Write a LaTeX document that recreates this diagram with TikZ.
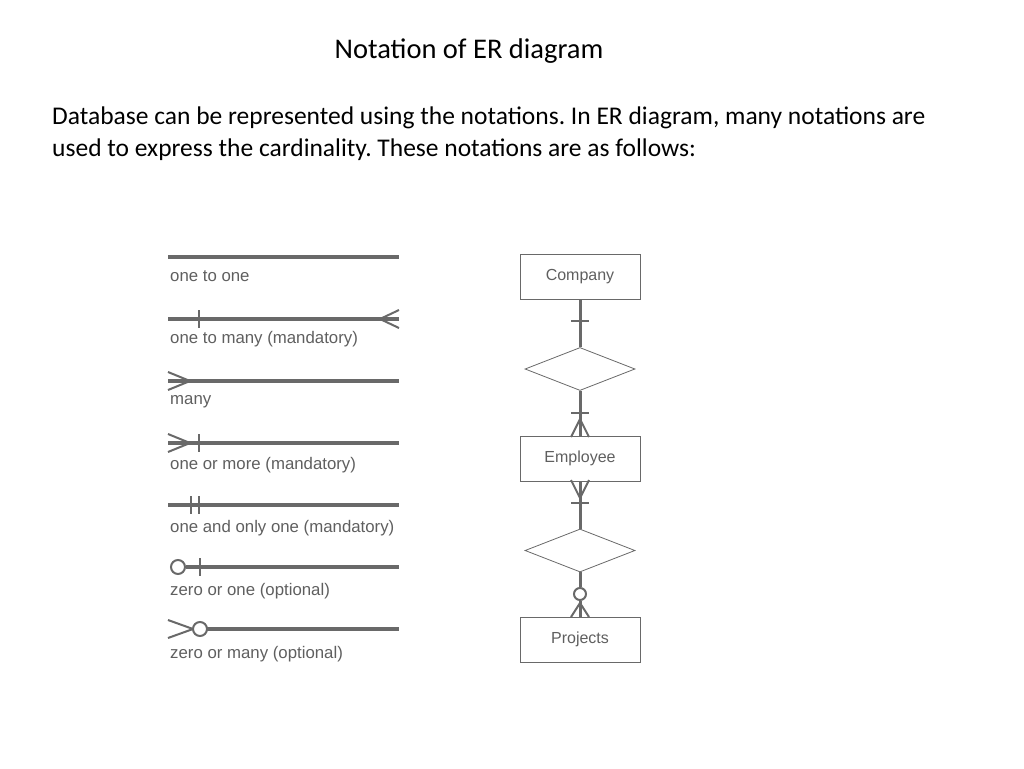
\documentclass[tikz,border=0pt]{standalone}
\usepackage{fontspec}
\setmainfont{Carlito}
\newfontfamily\notefont{Liberation Sans}
\usetikzlibrary{shapes.geometric,positioning}
\definecolor{erline}{RGB}{105,105,105}
\definecolor{ertext}{RGB}{95,95,95}
\tikzset{
  rel/.style={draw=erline, line width=3.5pt},
  tick/.style={draw=erline, line width=2pt},
  note/.style={anchor=west, font=\notefont\fontsize{16.8}{19}\selectfont, text=ertext, inner sep=0pt},
  entity/.style={draw=erline, line width=0.8pt, minimum width=120pt, minimum height=45pt, font=\notefont\fontsize{16}{19}\selectfont, text=ertext},
  relation/.style={diamond, draw=erline, line width=0.8pt, minimum width=110pt, minimum height=43pt, aspect=2.6, inner sep=0pt},
  link/.style={draw=erline, line width=3pt}
}
\frenchspacing
\begin{document}
\begin{tikzpicture}[x=1pt,y=-1pt]
  \useasboundingbox (0,0) rectangle (1024,768);

  % heading
  \node[font=\fontsize{28.5}{32}\selectfont] (title) at (469,51) {Notation of ER diagram};
  \node[anchor=north west, align=left, inner sep=0pt, font=\fontsize{25.5}{31.5}\selectfont] (intro) at (52,107)
    {Database can be represented using the notations. In ER diagram, many notations are\\
     used to express the cardinality. These notations are as follows:};

  % notation lines
  \draw[rel] (168,257) -- (399,257);
  \node[note] (n1) at (170,276) {one to one};

  \draw[rel] (168,319) -- (399,319);
  \draw[tick] (199,310) -- (199,328);
  \draw[tick] (399,310) -- (380,319) -- (399,328);
  \node[note] (n2) at (170,339) {one to many (mandatory)};

  \draw[rel] (168,381) -- (399,381);
  \draw[tick] (168,372) -- (190,381) -- (168,390);
  \node[note] (n3) at (170,402) {many};

  \draw[rel] (168,443) -- (399,443);
  \draw[tick] (168,434) -- (190,443) -- (168,452);
  \draw[tick] (199,434) -- (199,452);
  \node[note] (n4) at (170,465) {one or more (mandatory)};

  \draw[rel] (168,505) -- (399,505);
  \draw[tick] (191,496) -- (191,514);
  \draw[tick] (199,496) -- (199,514);
  \node[note] (n5) at (170,528) {one and only one (mandatory)};

  \draw[rel] (186,567) -- (399,567);
  \draw[tick, fill=white] (178,567) circle (7);
  \draw[tick] (200,558) -- (200,576);
  \node[note] (n6) at (170,591) {zero or one (optional)};

  \draw[rel] (207,629) -- (399,629);
  \draw[tick] (168,620) -- (193,629) -- (168,638);
  \draw[tick, fill=white] (200,629) circle (7);
  \node[note] (n7) at (170,654) {zero or many (optional)};

  % example diagram
  \node[entity] (company) at (580,276.5) {Company};
  \node[relation] (works) at (580,369) {};
  \node[entity] (employee) at (580,458.5) {Employee};
  \node[relation] (assigned) at (580,550.5) {};
  \node[entity] (projects) at (580,639.5) {Projects};

  \draw[link] (company) -- (works);
  \draw[link] (works) -- (employee);
  \draw[link] (employee) -- (assigned);
  \draw[link] (assigned.south) -- (580,587);
  \draw[link] (580,601) -- (projects.north);

  \draw[tick] (571,321) -- (589,321);
  \draw[tick] (571,413) -- (589,413);
  \draw[tick] (571,437) -- (580,419) -- (589,437);
  \draw[tick] (571,480) -- (580,498) -- (589,480);
  \draw[tick] (571,503) -- (589,503);
  \draw[tick, fill=white] (580,594) circle (6);
  \draw[tick] (571,617) -- (580,603) -- (589,617);
\end{tikzpicture}
\end{document}
